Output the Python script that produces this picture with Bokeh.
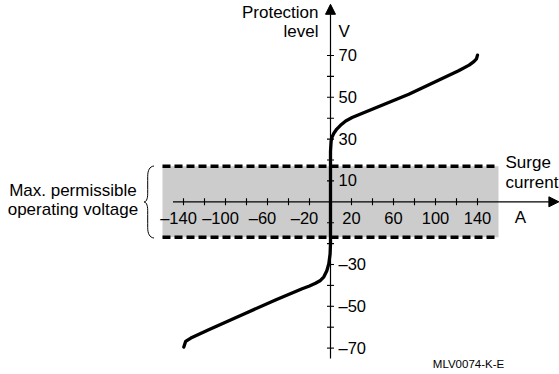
import math
from bokeh.plotting import figure
from bokeh.models import Range1d, Arrow, NormalHead, ColumnDataSource
from bokeh.core.properties import value
from bokeh.embed import file_html
from bokeh.resources import INLINE

# ---------------- data ----------------
current = [-139.7, -138.0, -133.0, -116.0, -84.0, -52.4, -27.0, -20.0, -14.3, -10.0, -6.3, -3.5, -1.6,
           -0.4, 0.0, 0.0, 0.6, 1.5, 3.2, 6.0, 9.5, 14.5, 20.6, 33.3, 74.6, 122.0, 132.0, 136.5, 139.0, 140.0]
voltage = [-69.5, -66.8, -65.2, -61.2, -54.0, -47.0, -41.6, -40.3, -39.0, -37.8, -35.9, -33.0, -29.6,
           -25.0, -20.0, 24.0, 29.0, 31.0, 32.8, 34.8, 36.6, 38.7, 40.3, 43.0, 51.5, 62.7, 65.4, 67.1, 68.4, 70.2]

x_ticks = [-140, -120, -100, -80, -60, -40, -20, 20, 40, 60, 80, 100, 120, 140]
x_label_values = [-140, -100, -60, -20, 20, 60, 100, 140]
x_label_text = ["\u2013140", "\u2013100", "\u201360", "\u201320", "20", "60", "100", "140"]

y_ticks = [-70, -60, -50, -40, -30, -20, -10, 10, 20, 30, 40, 50, 60, 70]
y_label_values = [70, 50, 30, 10, -30, -50, -70]
y_label_text = ["70", "50", "30", "10", "\u201330", "\u201350", "\u201370"]

band_current = [-160, 160]      # A
band_voltage = [-17, 17]        # V  (max. permissible operating voltage)

x_axis_span = [-150, 217.5]
y_axis_span = [-75, 94.5]

# ---------------- geometry helpers (page px -> data) ----------------
OX, OY = 330.0, 201.3       # page position of origin
SX, SY = 1.05, 2.09         # px per A, px per V
W, H = 559, 374
BASE_FIX = 0.39             # baseline correction, fraction of font size

def pg(xp, yp):
    return ((xp - OX) / SX, (OY - yp) / SY)

x0r, y1r = pg(0, 0)
x1r, y0r = pg(W, H)

p = figure(width=W, height=H, x_range=Range1d(x0r, x1r), y_range=Range1d(y0r, y1r),
           output_backend="svg", toolbar_location=None, min_border=0,
           x_axis_location=None, y_axis_location=None)
p.grid.visible = False
p.outline_line_color = None
p.background_fill_color = "white"
p.border_fill_color = "white"

FONT = value("Liberation Sans")

# band
p.quad(left=band_current[0], right=band_current[1], bottom=band_voltage[0], top=band_voltage[1],
       fill_color="#cccccc", line_color=None)
p.segment(x0=[band_current[0]] * 2, y0=band_voltage, x1=[band_current[1]] * 2, y1=band_voltage,
          line_color="black", line_width=3.5, line_dash="8 4")

# axes
p.add_layout(Arrow(end=NormalHead(size=10, fill_color="black", line_color="black", line_width=1),
                   x_start=x_axis_span[0], y_start=0, x_end=x_axis_span[1], y_end=0,
                   line_color="black", line_width=1.2))
p.add_layout(Arrow(end=NormalHead(size=10, fill_color="black", line_color="black", line_width=1),
                   x_start=0, y_start=y_axis_span[0], x_end=0, y_end=y_axis_span[1],
                   line_color="black", line_width=1.2))

# tick marks
p.scatter(x=x_ticks, y=[0] * len(x_ticks), marker="dash", size=7, angle=math.pi / 2,
          line_color="black", line_width=1.1)
p.scatter(x=[0] * len(y_ticks), y=y_ticks, marker="dash", size=7,
          line_color="black", line_width=1.1)

# curve
p.line(current, voltage, line_color="black", line_width=3.3, line_join="round", line_cap="round")

# tick labels
TICK_FS = 16.5
xsrc = ColumnDataSource(dict(x=x_label_values, y=[0] * len(x_label_values), t=x_label_text,
                             dx=[-5 if v < 0 else 0 for v in x_label_values]))
p.text(x="x", y="y", text="t", x_offset="dx", y_offset=22.5 - BASE_FIX * TICK_FS, source=xsrc,
       text_font=FONT, text_font_size=value(f"{TICK_FS}px"), text_align="center",
       text_baseline="alphabetic", text_color="black")
ysrc = ColumnDataSource(dict(x=[0] * len(y_label_values), y=y_label_values, t=y_label_text))
p.text(x="x", y="y", text="t", x_offset=8, y_offset=6 - BASE_FIX * TICK_FS, source=ysrc,
       text_font=FONT, text_font_size=value(f"{TICK_FS}px"), text_align="left",
       text_baseline="alphabetic", text_color="black")

# titles / annotations
def label(txt, xp, yp, align="left", size=17):
    x, y = pg(xp, yp)
    p.text(x=[x], y=[y], text=[txt], text_font=FONT, text_font_size=value(f"{size}px"),
           y_offset=-BASE_FIX * size,
           text_align=align, text_baseline="alphabetic", text_color="black")

label("Protection", 318, 18.5, "right")
label("level", 318, 37.5, "right")
label("V", 338, 37.5, "left")
label("Surge", 505, 168.5, "left")
label("current", 505, 189, "left")
label("A", 520, 224, "center")
label("Max. permissible", 72.4, 196.7, "center")
label("operating voltage", 72.4, 215.5, "center")
label("MLV0074-K-E", 432.3, 368.3, "left", 11.5)

# brace
segs = [
    ((153.5, 165.5), (147.2, 176.0), (149.0, 166.0), (147.2, 170.0)),
    ((147.2, 176.0), (147.2, 193.0), (147.2, 181.0), (147.2, 188.0)),
    ((147.2, 193.0), (143.5, 201.5), (147.2, 199.0), (145.5, 201.5)),
    ((143.5, 201.5), (147.2, 210.0), (145.5, 201.5), (147.2, 204.0)),
    ((147.2, 210.0), (147.2, 227.0), (147.2, 215.0), (147.2, 222.0)),
    ((147.2, 227.0), (153.5, 237.5), (147.2, 233.0), (149.0, 237.0)),
]
bz = dict(x0=[], y0=[], x1=[], y1=[], cx0=[], cy0=[], cx1=[], cy1=[])
for a, b, c0, c1 in segs:
    for k, pt in (("0", a), ("1", b)):
        xx, yy = pg(*pt)
        bz["x" + k].append(xx); bz["y" + k].append(yy)
    for k, pt in (("0", c0), ("1", c1)):
        xx, yy = pg(*pt)
        bz["cx" + k].append(xx); bz["cy" + k].append(yy)
p.bezier(source=ColumnDataSource(bz), x0="x0", y0="y0", x1="x1", y1="y1",
         cx0="cx0", cy0="cy0", cx1="cx1", cy1="cy1", line_color="black", line_width=1)

open("out.html", "w").write(file_html(p, INLINE))
